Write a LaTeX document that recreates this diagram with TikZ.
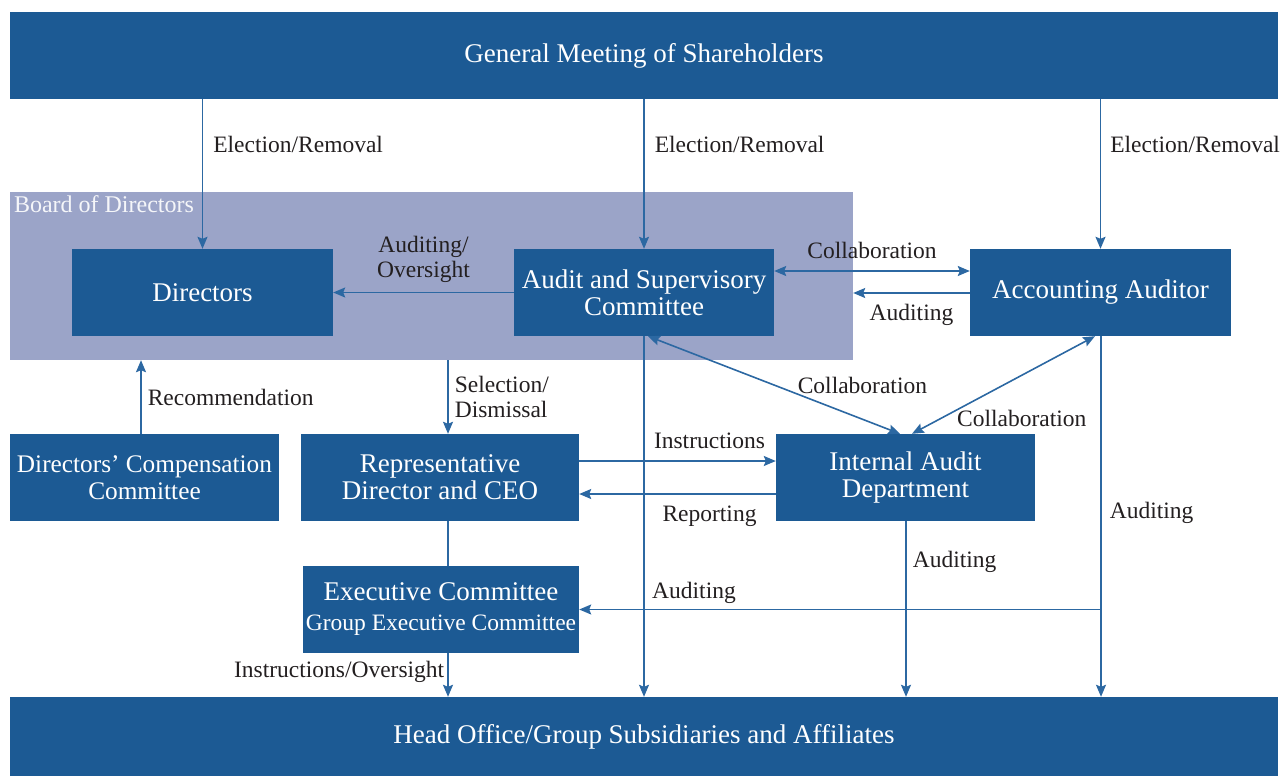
\documentclass[tikz,border=0pt]{standalone}
\usepackage{fontspec}
\setmainfont{Liberation Serif}
\usepackage{tikz}
\usetikzlibrary{arrows.meta}

\definecolor{orgblue}{HTML}{1C5A94}
\definecolor{boardfill}{HTML}{9BA4C8}
\definecolor{linkblue}{HTML}{2C68A2}
\definecolor{lbltext}{HTML}{231F20}

\begin{document}
\begin{tikzpicture}[x=1pt,y=-1pt,>={Stealth[length=12pt,width=10pt,inset=2pt]},
                    unit/.style={fill=orgblue,text=white,font=\fontsize{27}{27}\selectfont,
                                 align=center,minimum height=87pt,inner sep=0pt},
                    bar/.style={unit,minimum width=1268pt},
                    lbl/.style={font=\fontsize{23.5}{25}\selectfont,text=lbltext,inner sep=1pt},
                    line/.style={draw=linkblue,line width=1.6pt},
                    link/.style={line,->}]

  \useasboundingbox (0,0) rectangle (1283,776);

  % board area and its label
  \node[fill=boardfill,minimum width=843pt,minimum height=168pt,inner sep=0pt] (board) at (431.5,276) {};
  \node[anchor=north west,inner sep=4pt,text=white!90!boardfill,font=\fontsize{24}{25}\selectfont] (boardlbl) at (board.north west) {Board of Directors};

  \node[bar] (gm) at (644,55.5) {General Meeting of Shareholders};
  \node[bar,minimum height=79pt] (bot) at (644,736.5) {Head Office/Group Subsidiaries and Affiliates};

  \node[unit,minimum width=261pt] (dir) at (202.5,292.5) {Directors};
  \node[unit,minimum width=260pt] (asc) at (644,292.5) {Audit and Supervisory\\Committee};
  \node[unit,minimum width=261pt] (acc) at (1100.5,292.5) {Accounting Auditor};
  \node[unit,minimum width=269pt,font=\fontsize{25.3}{27}\selectfont] (dcc) at (144.5,477.5) {Directors' Compensation\\Committee};
  \node[unit,minimum width=278pt] (rep) at (440,477.5) {Representative\\Director and CEO};
  \node[unit,minimum width=259pt] (iad) at (905.5,477.5) {Internal Audit\\Department};
  \node[unit,minimum width=276pt] (exec) at (441,609.5) {Executive Committee\\[3pt]{\fontsize{23.5}{25}\selectfont Group Executive Committee}};

  % election
  \draw[link] (gm.south -| dir.north) -- node[lbl,pos=0.3,right=9pt] {Election/Removal} (dir.north);
  \draw[link] (gm.south -| asc.north) -- node[lbl,pos=0.3,right=9pt] {Election/Removal} (asc.north);
  \draw[link] (gm.south -| acc.north) -- node[lbl,pos=0.3,right=8pt] {Election/Removal} (acc.north);

  % board level
  \draw[link] (asc.west) -- node[lbl,above=8pt,align=center] {Auditing/\\Oversight} (dir.east);
  \draw[line,<->] ([yshift=21.5pt]asc.east) -- node[lbl,above=10pt] {Collaboration} ([yshift=21.5pt]acc.west);
  \draw[link] ([yshift=-0.5pt]acc.west) -- node[lbl,below=9pt] {Auditing} ([yshift=-0.5pt]acc.west -| board.east);
  \draw[link] ([xshift=-3.5pt]dcc.north) -- node[lbl,right=5pt] {Recommendation} ([xshift=-3.5pt]dcc.north |- board.south);
  \draw[link] ([xshift=8pt]rep.north |- board.south) -- node[lbl,right=5pt,align=left] {Selection/\\Dismissal} ([xshift=8pt]rep.north);

  % audit lines
  \draw[link] (asc.south) -- (asc.south |- bot.north);
  \draw[line,<->] ([xshift=4pt]asc.south) -- node[lbl,pos=0.5,right=22pt] {Collaboration} ([xshift=-5.5pt]iad.north);
  \draw[line,<->] ([xshift=-5.5pt]acc.south) -- node[lbl,pos=0.84,right=14pt] {Collaboration} ([xshift=6.5pt]iad.north);
  \draw[link] ([yshift=16.5pt]rep.east) -- node[lbl,above=10pt,xshift=32pt] {Instructions} ([yshift=16.5pt]iad.west);
  \draw[link] ([yshift=-16.5pt]iad.west) -- node[lbl,below=10pt,xshift=32pt] {Reporting} ([yshift=-16.5pt]rep.east);

  % execution
  \draw[line] ([xshift=8pt]rep.south) -- ([xshift=8pt]rep.south |- exec.north);
  \draw[link] ([xshift=7pt]exec.south) -- node[lbl,pos=0.43,left=2pt] {Instructions/Oversight} ([xshift=7pt]exec.south |- bot.north);
  \draw[link] ([xshift=0.5pt]iad.south) -- node[lbl,pos=0.23,right=5pt] {Auditing} ([xshift=0.5pt]iad.south |- bot.north);
  \draw[link] ([xshift=0.5pt]acc.south) -- node[lbl,pos=0.49,right=7pt] {Auditing} ([xshift=0.5pt]acc.south |- bot.north);
  \draw[link] ([xshift=0.5pt]acc.south |- exec.east) -- node[lbl,pos=0.78,above=4.5pt] {Auditing} (exec.east);
\end{tikzpicture}
\end{document}
